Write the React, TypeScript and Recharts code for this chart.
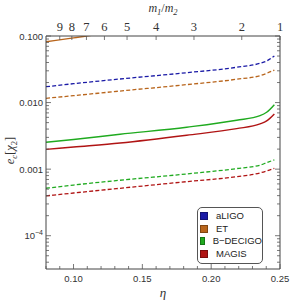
import React from 'react';
import { LineChart, Line, XAxis, YAxis, Legend } from 'recharts';

// symmetric mass ratio samples
const eta = [0.08, 0.1, 0.1338, 0.1822, 0.2185, 0.2355, 0.2403, 0.2459];
// solid = one detector configuration, dashed = other
const etSolid = [0.082, 0.0937, 0.117, 0.145, 0.172, 0.193, 0.209, 0.232];
const aligoDashed = [0.0173, 0.0192, 0.0226, 0.0281, 0.0339, 0.0389, 0.0422, 0.0501];
const etDashed = [0.0116, 0.0127, 0.0149, 0.0186, 0.0224, 0.0254, 0.0275, 0.0308];
const bdecigoSolid = [0.00254, 0.00279, 0.00334, 0.00426, 0.00542, 0.00635, 0.00715, 0.00929];
const magisSolid = [0.00198, 0.00215, 0.00247, 0.00323, 0.00406, 0.00478, 0.0053, 0.00675];
const bdecigoDashed = [0.000516, 0.000577, 0.000681, 0.000847, 0.00102, 0.00115, 0.00125, 0.00138];
const magisDashed = [0.000396, 0.000438, 0.000516, 0.000649, 0.000771, 0.000877, 0.00094, 0.00103];

const etaTicks = [0.08, 0.09, 0.1, 0.11, 0.12, 0.13, 0.14, 0.15, 0.16, 0.17, 0.18, 0.19, 0.2, 0.21, 0.22, 0.23, 0.24, 0.25];
const etaLabelled = ['0.10', '0.15', '0.20', '0.25'];
const massRatios = [9, 8, 7, 6, 5, 4, 3, 2, 1];
const yDecades = [-5, -4, -3, -2, -1];
const yMantissas = [1, 2, 3, 4, 5, 6, 7, 8, 9];
const yLabels: Record<string, string> = { '-1': '0.100', '-2': '0.010', '-3': '0.001' };

const legendNames = ['aLIGO', 'ET', 'B\u2212DECIGO', 'MAGIS'];
const legendColors = ['#1a1aa6', '#b8651c', '#1faa1f', '#b01414'];

const Y_MIN = Math.pow(10, -4.5);
const Y_MAX = 0.1;

const data = eta.map((e, i) => ({
  eta: e,
  etSolid: etSolid[i],
  aligoDashed: aligoDashed[i],
  etDashed: etDashed[i],
  bdecigoSolid: bdecigoSolid[i],
  magisSolid: magisSolid[i],
  bdecigoDashed: bdecigoDashed[i],
  magisDashed: magisDashed[i],
}));

const qTicks = massRatios.map((q) => q / ((1 + q) * (1 + q)));

const yTicks: number[] = [];
yDecades.forEach((d) =>
  yMantissas.forEach((m) => {
    const v = m * Math.pow(10, d);
    if (v >= Y_MIN * 0.999 && v <= Y_MAX * 1.001) yTicks.push(v);
  })
);

const isMajorY = (v: number) => {
  const l = Math.log10(v);
  return Math.abs(l - Math.round(l)) < 1e-6;
};

const TICK_COLOR = '#555';
const TEXT_COLOR = '#333';
const SANS = '"Liberation Sans", Arial, sans-serif';
const SERIF = '"Liberation Serif", "Times New Roman", serif';

const BottomTick = (props: any) => {
  const { x, y, payload } = props;
  const v: number = payload.value;
  const lab = v.toFixed(2);
  const major = etaLabelled.includes(lab);
  return (
    <g>
      <line x1={x} x2={x} y1={y} y2={y - (major ? 5 : 3)} stroke={TICK_COLOR} strokeWidth={0.8} />
      {major && (
        <text x={x} y={y + 13} textAnchor="middle" fontFamily={SANS} fontSize={9.5} fill={TEXT_COLOR}>
          {lab}
        </text>
      )}
    </g>
  );
};

const TopTick = (props: any) => {
  const { x, y, payload } = props;
  const v: number = payload.value;
  let idx = 0;
  qTicks.forEach((t, i) => {
    if (Math.abs(t - v) < 1e-9) idx = i;
  });
  return (
    <g>
      <line x1={x} x2={x} y1={y} y2={y + 4} stroke={TICK_COLOR} strokeWidth={0.8} />
      <text x={x} y={y - 5} textAnchor="middle" fontFamily={SERIF} fontSize={12.5} fill={TEXT_COLOR}>
        {massRatios[idx]}
      </text>
    </g>
  );
};

const LeftTick = (props: any) => {
  const { x, y, payload } = props;
  const v: number = payload.value;
  const major = isMajorY(v);
  const dec = Math.round(Math.log10(v));
  let label: React.ReactNode = null;
  if (major) {
    if (yLabels[String(dec)]) {
      label = (
        <text x={x - 3} y={y + 3.5} textAnchor="end" fontFamily={SANS} fontSize={9.5} fill={TEXT_COLOR}>
          {yLabels[String(dec)]}
        </text>
      );
    } else {
      label = (
        <text x={x - 3} y={y + 3.5} textAnchor="end" fontFamily={SANS} fontSize={9.5} fill={TEXT_COLOR}>
          10
          <tspan dy={-4.5} fontSize={7}>{'\u2212' + Math.abs(dec)}</tspan>
        </text>
      );
    }
  }
  return (
    <g>
      <line x1={x} x2={x + (major ? 5 : 3)} y1={y} y2={y} stroke={TICK_COLOR} strokeWidth={0.8} />
      {label}
    </g>
  );
};

const RightTick = (props: any) => {
  const { x, y, payload } = props;
  const major = isMajorY(payload.value);
  return <line x1={x} x2={x - (major ? 5 : 3)} y1={y} y2={y} stroke={TICK_COLOR} strokeWidth={0.8} />;
};

const EtaTitle = (props: any) => {
  const vb = props.viewBox || { x: 46, y: 269, width: 234 };
  return (
    <text x={vb.x + vb.width / 2} y={vb.y + 28} textAnchor="middle" fontFamily={SERIF} fontStyle="italic" fontSize={13} fill={TEXT_COLOR}>
      {'\u03b7'}
    </text>
  );
};

const RatioTitle = (props: any) => {
  const vb = props.viewBox || { x: 46, y: 0, width: 234 };
  return (
    <text x={vb.x + vb.width / 2} y={12} textAnchor="middle" fontFamily={SERIF} fontStyle="italic" fontSize={12} fill={TEXT_COLOR}>
      m<tspan dy={2.5} fontSize={8.5}>1</tspan>
      <tspan dy={-2.5} fontStyle="normal">/</tspan>m<tspan dy={2.5} fontSize={8.5}>2</tspan>
    </text>
  );
};

const YTitle = (props: any) => {
  const vb = props.viewBox || { x: 0, y: 36, height: 233 };
  const cx = 14;
  const cy = vb.y + vb.height / 2 - 2;
  return (
    <text x={cx} y={cy} transform={`rotate(-90, ${cx}, ${cy})`} textAnchor="middle" fontFamily={SERIF} fontSize={12.5} fill={TEXT_COLOR}>
      <tspan fontStyle="italic">e</tspan>
      <tspan dy={2.5} fontSize={8.5} fontStyle="italic">c</tspan>
      <tspan dy={-2.5}>[</tspan>
      <tspan fontStyle="italic">{'\u03c7'}</tspan>
      <tspan dy={2.5} fontSize={8.5}>2</tspan>
      <tspan dy={-2.5}>]</tspan>
    </text>
  );
};

const LegendBox = () => (
  <div
    style={{
      border: '1px solid #555',
      borderRadius: 5,
      background: '#fff',
      width: 64,
      height: 53,
      boxSizing: 'content-box',
      paddingTop: 2,
    }}
  >
    {legendNames.map((n, i) => (
      <div key={n} style={{ display: 'flex', alignItems: 'center', height: 12.6, marginLeft: 2 }}>
        <div style={{ width: 6, height: 6, background: legendColors[i], marginRight: 8, border: '0.5px solid rgba(0,0,0,0.3)' }} />
        <span style={{ fontFamily: SANS, fontSize: 9.5, color: '#222', lineHeight: '12px' }}>{n}</span>
      </div>
    ))}
  </div>
);

export default function App() {
  return (
    <div style={{ position: 'absolute', left: 0, top: 0, width: 291, height: 304, background: '#fff' }}>
      <LineChart width={291} height={304} data={data} margin={{ top: 0, right: 0, bottom: 0, left: 0 }}>
        <XAxis
          xAxisId="b"
          dataKey="eta"
          type="number"
          domain={[0.08, 0.25]}
          ticks={etaTicks}
          interval={0}
          height={35}
          tickSize={0}
          tickMargin={0}
          tickLine={false}
          tick={<BottomTick />}
          axisLine={{ stroke: '#444', strokeWidth: 1 }}
          allowDataOverflow
          label={EtaTitle}
        />
        <XAxis
          xAxisId="t"
          dataKey="eta"
          orientation="top"
          type="number"
          domain={[0.08, 0.25]}
          ticks={qTicks}
          interval={0}
          height={36}
          tickSize={0}
          tickMargin={0}
          tickLine={false}
          tick={<TopTick />}
          axisLine={{ stroke: '#444', strokeWidth: 1 }}
          allowDataOverflow
          label={RatioTitle}
        />
        <YAxis
          yAxisId="l"
          scale="log"
          type="number"
          domain={[Y_MIN, Y_MAX]}
          ticks={yTicks}
          interval={0}
          width={46}
          tickSize={0}
          tickMargin={0}
          tickLine={false}
          tick={<LeftTick />}
          axisLine={{ stroke: '#444', strokeWidth: 1 }}
          allowDataOverflow
          label={YTitle}
        />
        <YAxis
          yAxisId="r"
          orientation="right"
          scale="log"
          type="number"
          domain={[Y_MIN, Y_MAX]}
          ticks={yTicks}
          interval={0}
          width={11}
          tickSize={0}
          tickMargin={0}
          tickLine={false}
          tick={<RightTick />}
          axisLine={{ stroke: '#444', strokeWidth: 1 }}
          allowDataOverflow
        />
        <Legend
          layout="vertical"
          align="center"
          verticalAlign="middle"
          content={<LegendBox />}
          wrapperStyle={{ position: 'absolute', left: 197, top: 207, width: 66, height: 55 }}
        />
        <Line xAxisId="b" yAxisId="l" dataKey="etSolid" stroke="#b8651c" strokeWidth={1.4} dot={false} type="monotone" isAnimationActive={false} />
        <Line xAxisId="b" yAxisId="l" dataKey="aligoDashed" stroke="#1a1aa6" strokeWidth={1.3} strokeDasharray="4 2.2" dot={false} type="monotone" isAnimationActive={false} />
        <Line xAxisId="b" yAxisId="l" dataKey="etDashed" stroke="#b8651c" strokeWidth={1.3} strokeDasharray="4 2.2" dot={false} type="monotone" isAnimationActive={false} />
        <Line xAxisId="b" yAxisId="l" dataKey="bdecigoSolid" stroke="#1faa1f" strokeWidth={1.4} dot={false} type="monotone" isAnimationActive={false} />
        <Line xAxisId="b" yAxisId="l" dataKey="magisSolid" stroke="#b01414" strokeWidth={1.4} dot={false} type="monotone" isAnimationActive={false} />
        <Line xAxisId="b" yAxisId="l" dataKey="bdecigoDashed" stroke="#1faa1f" strokeWidth={1.3} strokeDasharray="4 2.2" dot={false} type="monotone" isAnimationActive={false} />
        <Line xAxisId="b" yAxisId="l" dataKey="magisDashed" stroke="#b01414" strokeWidth={1.3} strokeDasharray="4 2.2" dot={false} type="monotone" isAnimationActive={false} />
      </LineChart>
    </div>
  );
}
